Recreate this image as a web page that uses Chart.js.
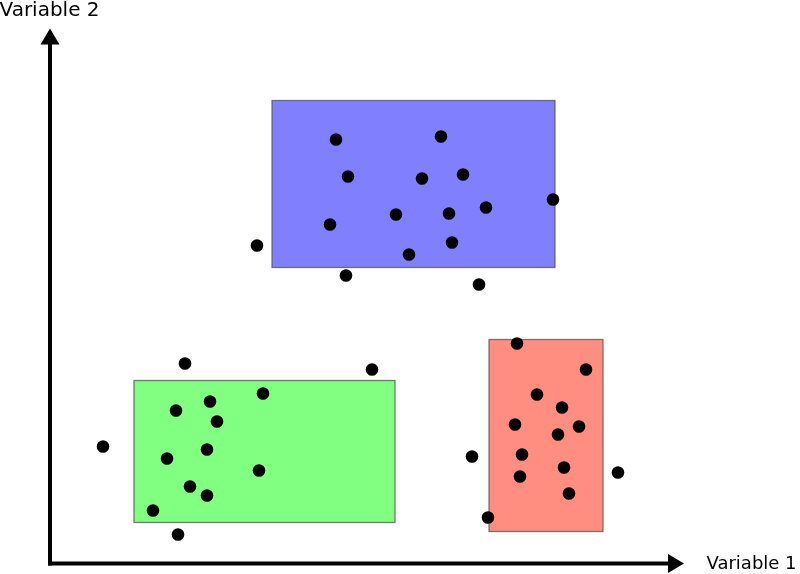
<!DOCTYPE html>
<html>
<head>
<meta charset="utf-8">
<script src="https://cdn.jsdelivr.net/npm/chart.js@4/dist/chart.umd.min.js"></script>
<style>
html,body{margin:0;padding:0;background:#fff;}
canvas{display:block;}
</style>
</head>
<body>
<canvas id="c" width="800" height="574"></canvas>
<script>
// Axis titles
const xTitle = "Variable 1";
const yTitle = "Variable 2";

// Cluster points (x = Variable 1, y = Variable 2)
const blueX  = [286, 391, 298, 372, 413, 503, 346, 399, 436, 280, 207, 402, 359, 296, 429];
const blueY  = [424, 427, 387, 385, 389, 364, 349, 350, 356, 339, 318, 321, 309, 288, 279];
const greenX = [135, 322, 213, 160, 126, 167, 53, 157, 117, 209, 140, 157, 103, 128];
const greenY = [200, 194, 170, 162, 153, 142, 117, 114, 105, 93, 77, 68, 53, 29];
const redX   = [467, 536, 487, 512, 465, 529, 508, 422, 472, 514, 568, 470, 519, 438];
const redY   = [220, 194, 169, 156, 139, 137, 129, 107, 109, 96, 91, 87, 70, 46];

// Group rectangles [xMin, xMax, yMin, yMax]
const blueBox  = [222, 505, 296, 463];
const greenBox = [84, 345, 41, 183];
const redBox   = [439, 553, 32, 224];

// Axis extents (arrow tips)
const xAxisEnd = 634;
const yAxisEnd = 535;

function pts(xs, ys){ return xs.map((x,i)=>({x:x, y:ys[i]})); }

const boxes = [
  {b: blueBox,  fill: "rgb(128,128,255)"},
  {b: greenBox, fill: "rgb(128,255,128)"},
  {b: redBox,   fill: "rgb(255,141,128)"}
];

const decor = {
  id: "decor",
  beforeDatasetsDraw(chart){
    const {ctx, scales:{x, y}} = chart;
    ctx.save();
    boxes.forEach(o=>{
      const x0 = x.getPixelForValue(o.b[0]), x1 = x.getPixelForValue(o.b[1]);
      const y0 = y.getPixelForValue(o.b[3]), y1 = y.getPixelForValue(o.b[2]);
      ctx.fillStyle = o.fill;
      ctx.fillRect(x0, y0, x1-x0, y1-y0);
      ctx.strokeStyle = "rgba(80,80,80,0.75)";
      ctx.lineWidth = 1.3;
      ctx.strokeRect(x0, y0, x1-x0, y1-y0);
    });
    // axes
    const ox = x.getPixelForValue(0), oy = y.getPixelForValue(0);
    const xe = x.getPixelForValue(xAxisEnd), ye = y.getPixelForValue(yAxisEnd);
    ctx.strokeStyle = "#000";
    ctx.fillStyle = "#000";
    ctx.lineWidth = 4;
    ctx.lineCap = "butt";
    ctx.beginPath();
    ctx.moveTo(ox, oy+2);
    ctx.lineTo(ox, ye+14);
    ctx.stroke();
    ctx.beginPath();
    ctx.moveTo(ox-2, oy);
    ctx.lineTo(xe-14, oy);
    ctx.stroke();
    // arrowheads
    ctx.beginPath();
    ctx.moveTo(ox, ye);
    ctx.lineTo(ox-9.5, ye+16);
    ctx.lineTo(ox+9.5, ye+16);
    ctx.closePath();
    ctx.fill();
    ctx.beginPath();
    ctx.moveTo(xe, oy);
    ctx.lineTo(xe-16, oy-9.5);
    ctx.lineTo(xe-16, oy+9.5);
    ctx.closePath();
    ctx.fill();
    // titles
    ctx.textBaseline = "alphabetic";
    ctx.textAlign = "left";
    ctx.font = "20px 'DejaVu Sans'";
    ctx.fillText(yTitle, -0.5, 15.5);
    ctx.font = "18px 'DejaVu Sans'";
    ctx.fillText(xTitle, 706.5, 569);
    ctx.restore();
  }
};

new Chart(document.getElementById("c"), {
  type: "scatter",
  data: {
    datasets: [
      {label: "A", data: pts(blueX, blueY)},
      {label: "B", data: pts(greenX, greenY)},
      {label: "C", data: pts(redX, redY)}
    ]
  },
  options: {
    responsive: false,
    animation: false,
    devicePixelRatio: 1,
    layout: {padding: 0, autoPadding: false},
    elements: {point: {radius: 6.3, backgroundColor: "#000", borderWidth: 0, hoverRadius: 6.3}},
    plugins: {legend: {display: false}, tooltip: {enabled: false}},
    scales: {
      x: {type: "linear", display: false, min: -50, max: 750},
      y: {type: "linear", display: false, min: -10.5, max: 563.5}
    }
  },
  plugins: [decor]
});
</script>
</body>
</html>
